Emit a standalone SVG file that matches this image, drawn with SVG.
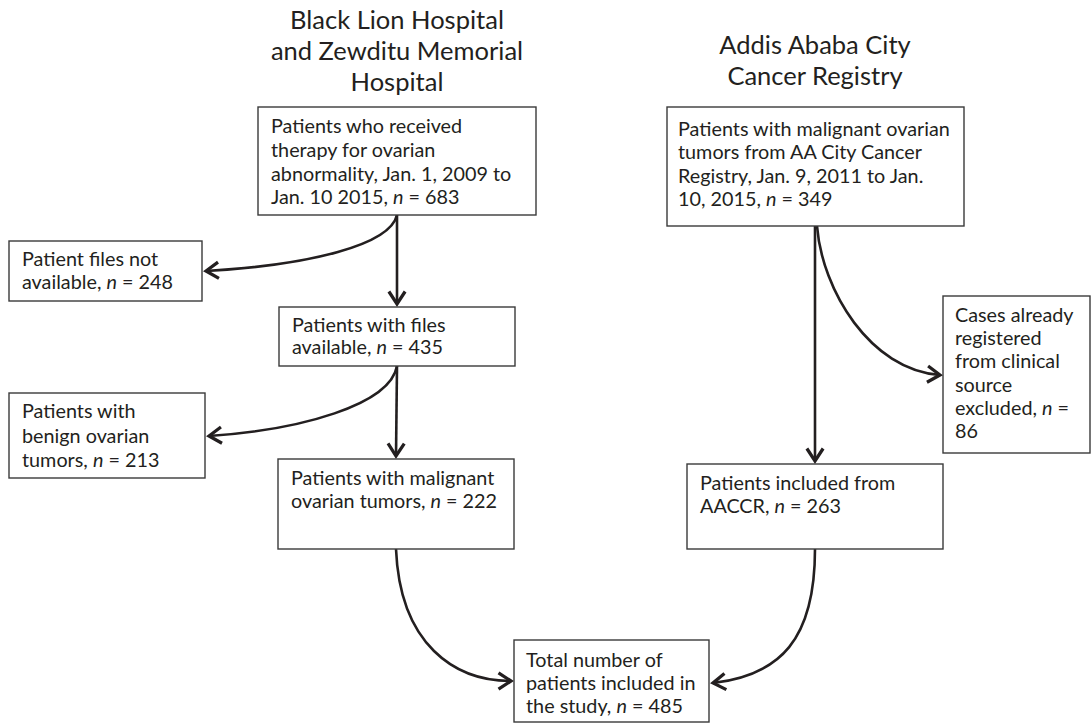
<svg xmlns="http://www.w3.org/2000/svg" width="1091" height="724" viewBox="0 0 1091 724">
<style>
.box{fill:#fff;stroke:#3a3a3a;stroke-width:1.4}
.t{font-family:Lato,"Open Sans","Liberation Sans",sans-serif;font-size:19.8px;fill:#231f20}
.title{font-family:Lato,"Open Sans","Liberation Sans",sans-serif;font-size:25.5px;fill:#231f20;text-anchor:middle}
.c{fill:none;stroke:#231f20;stroke-width:2.6}
.i{font-style:italic}
</style>
<defs>
<marker id="arr" markerUnits="userSpaceOnUse" markerWidth="20" markerHeight="20" viewBox="-12 -8 14 16" refX="0" refY="0" orient="auto">
<path d="M-10,-6.5 L0,0 L-10,6.5" fill="none" stroke="#231f20" stroke-width="2.6" stroke-linejoin="miter"/>
</marker>
</defs>
<rect width="1091" height="724" fill="#fff"/>
<g id="titles">
<text class="title" x="397" y="29">Black Lion Hospital</text>
<text class="title" x="397" y="60">and Zewditu Memorial</text>
<text class="title" x="397" y="91">Hospital</text>
<text class="title" x="815" y="54">Addis Ababa City</text>
<text class="title" x="815" y="85">Cancer Registry</text>
</g>
<g id="connectors">
<path class="c" d="M397,215 C390,245 310,265 206,271" marker-end="url(#arr)"/>
<path class="c" d="M397,215 L397,304" marker-end="url(#arr)"/>
<path class="c" d="M397,366 C390,405 300,430 209,436" marker-end="url(#arr)"/>
<path class="c" d="M397,366 L396,456" marker-end="url(#arr)"/>
<path class="c" d="M817,226 C822,290 870,370 940,375" marker-end="url(#arr)"/>
<path class="c" d="M815,226 L815,461" marker-end="url(#arr)"/>
<path class="c" d="M396,549 C400,645 455,681 511,681" marker-end="url(#arr)"/>
<path class="c" d="M815,549 C815,640 780,675 713,683" marker-end="url(#arr)"/>
</g>
<g id="n1">
<rect class="box" x="258" y="107" width="278" height="108"/>
<text class="t" x="271" y="133">Patients who received</text>
<text class="t" x="271" y="157">therapy for ovarian</text>
<text class="t" x="271" y="181">abnormality, Jan. 1, 2009 to</text>
<text class="t" x="271" y="204">Jan. 10 2015, <tspan class="i">n</tspan> = 683</text>
</g>
<g id="n2">
<rect class="box" x="667" y="107" width="297" height="119"/>
<text class="t" x="678" y="136">Patients with malignant ovarian</text>
<text class="t" x="678" y="159">tumors from AA City Cancer</text>
<text class="t" x="678" y="183">Registry, Jan. 9, 2011 to Jan.</text>
<text class="t" x="678" y="206">10, 2015, <tspan class="i">n</tspan> = 349</text>
</g>
<g id="n3">
<rect class="box" x="9" y="241" width="193" height="60"/>
<text class="t" x="22" y="266">Patient files not</text>
<text class="t" x="22" y="289">available, <tspan class="i">n</tspan> = 248</text>
</g>
<g id="n4">
<rect class="box" x="279" y="307" width="236" height="59"/>
<text class="t" x="292" y="332">Patients with files</text>
<text class="t" x="292" y="354">available, <tspan class="i">n</tspan> = 435</text>
</g>
<g id="n5">
<rect class="box" x="9" y="393" width="196" height="85"/>
<text class="t" x="22" y="418">Patients with</text>
<text class="t" x="22" y="443">benign ovarian</text>
<text class="t" x="22" y="467">tumors, <tspan class="i">n</tspan> = 213</text>
</g>
<g id="n6">
<rect class="box" x="278" y="459" width="236" height="90"/>
<text class="t" x="291" y="485">Patients with malignant</text>
<text class="t" x="291" y="508">ovarian tumors, <tspan class="i">n</tspan> = 222</text>
</g>
<g id="n7">
<rect class="box" x="943" y="296" width="147" height="157"/>
<text class="t" x="955" y="322">Cases already</text>
<text class="t" x="955" y="345">registered</text>
<text class="t" x="955" y="368">from clinical</text>
<text class="t" x="955" y="392">source</text>
<text class="t" x="955" y="415">excluded, <tspan class="i">n</tspan> =</text>
<text class="t" x="955" y="438">86</text>
</g>
<g id="n8">
<rect class="box" x="687" y="464" width="256" height="85"/>
<text class="t" x="700" y="490">Patients included from</text>
<text class="t" x="700" y="513">AACCR, <tspan class="i">n</tspan> = 263</text>
</g>
<g id="n9">
<rect class="box" x="514" y="640" width="195" height="82"/>
<text class="t" x="526" y="667">Total number of</text>
<text class="t" x="526" y="690">patients included in</text>
<text class="t" x="526" y="713">the study, <tspan class="i">n</tspan> = 485</text>
</g>
</svg>
